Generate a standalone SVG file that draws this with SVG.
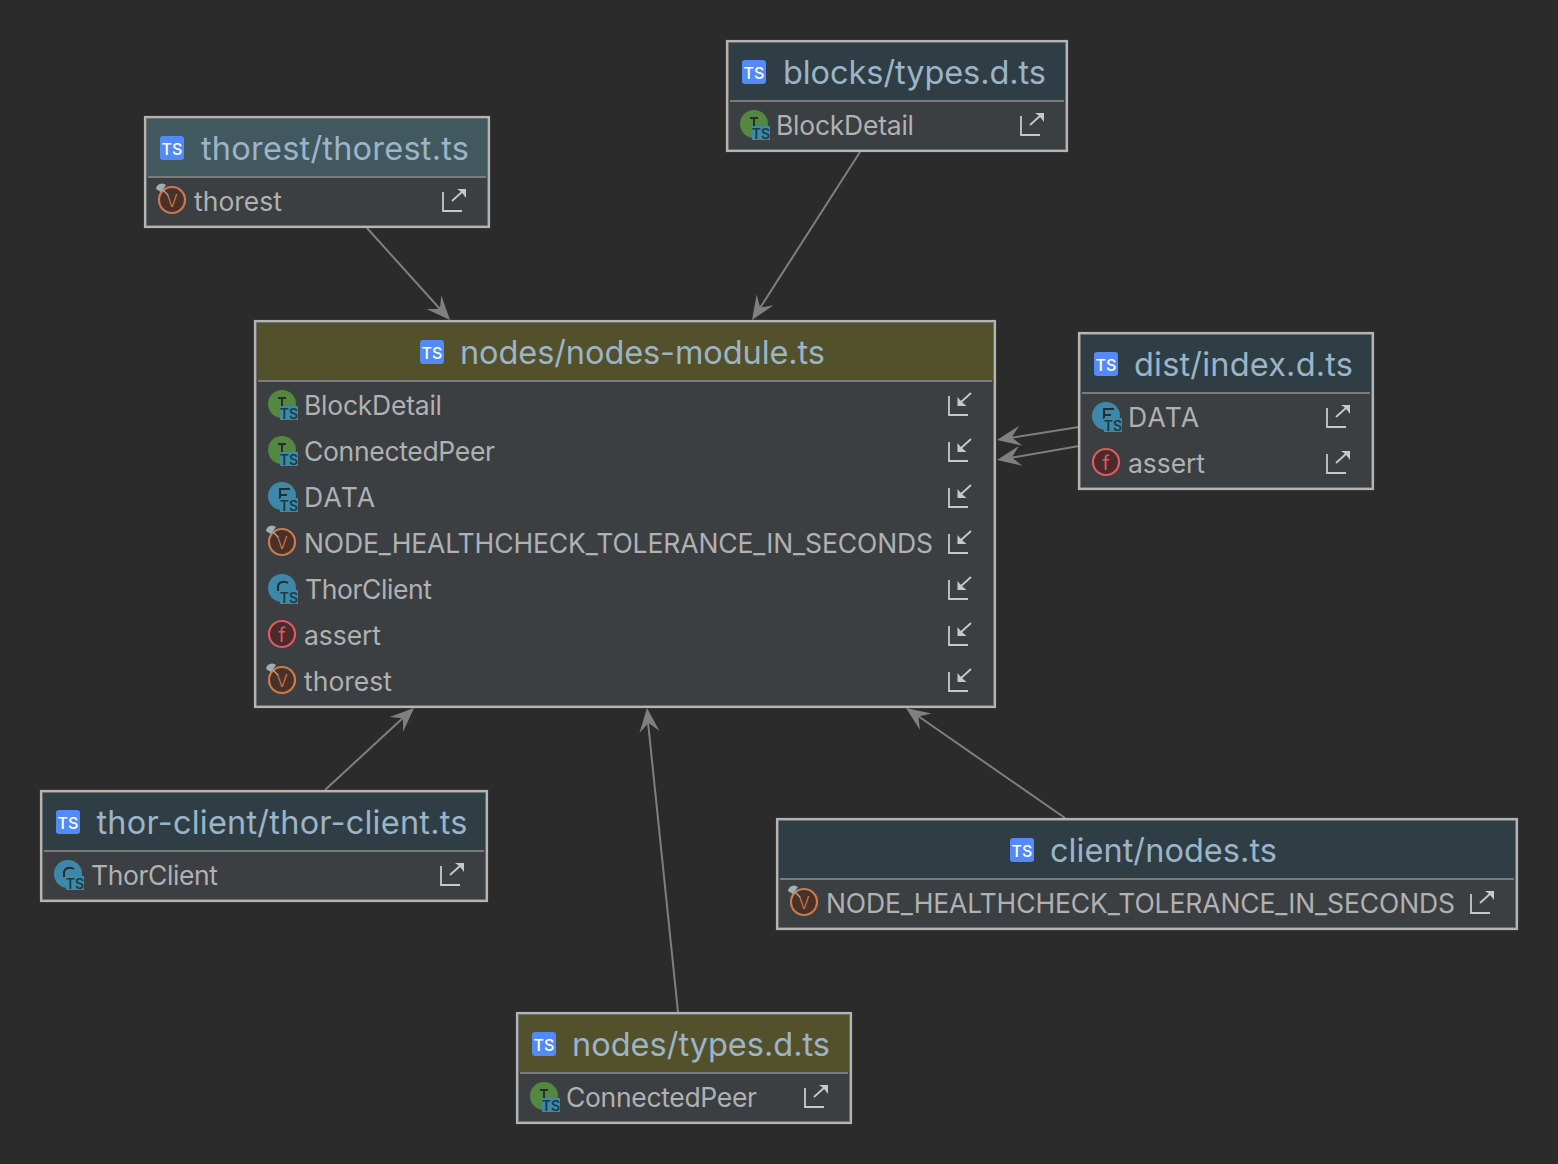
<svg xmlns="http://www.w3.org/2000/svg" xmlns:xlink="http://www.w3.org/1999/xlink" width="1558" height="1164" viewBox="0 0 1558 1164">
<style>
text{font-family:Inter,"Noto Sans","Liberation Sans",sans-serif}
.box{fill:#3c3f41;stroke:#777;stroke-width:1.500}
.frame{fill:none;stroke:#b4b4b4;stroke-width:2.200}
.sep{stroke:#7b7b7b;stroke-width:2}
.title{font-size:32.500px;fill:#9cb4c8}
.row{font-size:26.500px;fill:#afb1b3}
.blue{fill:#2f3e44}
.hteal{fill:#41585e}
.holive{fill:#53512c}
.tsbg{fill:#548af7}
.tsw{font-size:16px;font-weight:500;fill:#fff;text-anchor:middle}
.ts2{font-size:14px;font-weight:600;fill:#1f3a47;text-anchor:middle}
.ln{stroke:#c8c8c8;stroke-width:1.800;fill:none}
.hd{fill:#c8c8c8}
.ar{stroke:#7f7f7f;stroke-width:2;fill:none}
.ah{fill:#808080}
</style>
<defs>
<g id="ts"><rect width="24" height="24" rx="3" class="tsbg"/><text x="12" y="18.500" class="tsw">TS</text></g>
<g id="out"><path class="ln" d="M1 4V23H20M10 13L21 3"/><path class="hd" d="M15 1H24V10L21 6 18 3Z"/></g>
<g id="in"><path class="ln" d="M1 4V23H20M23 1L12 11"/><path class="hd" d="M9.500 5V14H18.500L15 11 12 8Z"/></g>
<g id="vv"><circle cx="1" r="13" fill="#4a3128" stroke="#c97b4f" stroke-width="2.200"/><text x="1" y="6.500" font-size="17" font-weight="300" text-anchor="middle" fill="#c97b4f">V</text><path d="M-15-11A6 6 0 0 1-5-15L-10-8Z" fill="#a0aeb5"/><path d="M-8-10L-3-5" stroke="#a0aeb5" stroke-width="1.200"/></g>
<g id="ff"><circle r="13" fill="#4a2a2c" stroke="#de5a5f" stroke-width="2.200"/><text y="7.500" font-size="20" font-weight="400" text-anchor="middle" fill="#de5a5f">f</text></g>
<g id="badge"><rect x="-2" y="2" width="18" height="14" fill="#3a8aa8"/><text x="7" y="14.500" class="ts2">TS</text></g>
<g id="ii"><circle r="14" fill="#52883f"/><path d="M-4-6H4M0-6V3" stroke="#2b2b2b" stroke-width="2"/><use xlink:href="#badge"/></g>
<g id="dd"><circle r="14" fill="#3d88a8"/><path d="M8-7H-2V3M-2-1H5" stroke="#2b2b2b" stroke-width="2" fill="none"/><use xlink:href="#badge"/></g>
<g id="cc"><circle r="14" fill="#3d88a8"/><path d="M6-5A6 5 0 0 0-4-2V3" stroke="#2b2b2b" stroke-width="2" fill="none"/><use xlink:href="#badge"/></g>
<path id="head" class="ah" d="M0 0L-24-10-15 0-24 10Z"/>
</defs>
<rect width="1558" height="1164" fill="#2b2b2b"/>

<g id="connectors">
<path class="ar" d="M367 228L440 309"/><use xlink:href="#head" transform="translate(450 320) rotate(47.800)"/>
<path class="ar" d="M860 152L760 308"/><use xlink:href="#head" transform="translate(752 320) rotate(123)"/>
<path class="ar" d="M1079 427L1010 438"/><use xlink:href="#head" transform="translate(997 440) rotate(170)"/>
<path class="ar" d="M1079 446L1010 458"/><use xlink:href="#head" transform="translate(997 460) rotate(170)"/>
<path class="ar" d="M325 790L404 717"/><use xlink:href="#head" transform="translate(414 708) rotate(-42.800)"/>
<path class="ar" d="M678 1012L648 722"/><use xlink:href="#head" transform="translate(647 708) rotate(-95.800)"/>
<path class="ar" d="M1065 818L918 716"/><use xlink:href="#head" transform="translate(906 708) rotate(-145.200)"/>
</g>

<g id="node-thorest" transform="translate(144 116)">
<rect class="box" x="2" y="2" width="342" height="108"/>
<rect class="hteal" x="3" y="3" width="340" height="58"/>
<line class="sep" x1="4" x2="342" y1="61" y2="61"/>
<rect class="frame" x="1" y="1" width="344" height="110"/>
<use xlink:href="#ts" x="16" y="20"/><text class="title" x="57" y="44" textLength="268">thorest/thorest.ts</text>
<use xlink:href="#vv" x="27" y="84"/><text class="row" x="50" y="94.500" textLength="88">thorest</text><use xlink:href="#out" x="298" y="72"/>
</g>

<g id="node-blocks" transform="translate(726 40)">
<rect class="box" x="2" y="2" width="338" height="108"/>
<rect class="blue" x="3" y="3" width="336" height="58"/>
<line class="sep" x1="4" x2="338" y1="61" y2="61"/>
<rect class="frame" x="1" y="1" width="340" height="110"/>
<use xlink:href="#ts" x="16" y="20"/><text class="title" x="57" y="44" textLength="263">blocks/types.d.ts</text>
<use xlink:href="#ii" x="28" y="84"/><text class="row" x="50" y="94.500" textLength="138">BlockDetail</text><use xlink:href="#out" x="294" y="72"/>
</g>

<g id="node-main" transform="translate(254 320)">
<rect class="box" x="2" y="2" width="738" height="384"/>
<rect class="holive" x="3" y="3" width="736" height="58"/>
<line class="sep" x1="4" x2="738" y1="61" y2="61"/>
<rect class="frame" x="1" y="1" width="740" height="386"/>
<use xlink:href="#ts" x="166" y="20"/><text class="title" x="206" y="44" textLength="365">nodes/nodes-module.ts</text>
<use xlink:href="#ii" x="28" y="84"/><text class="row" x="50" y="94.500" textLength="138">BlockDetail</text><use xlink:href="#in" x="694" y="72"/>
<use xlink:href="#ii" x="28" y="130"/><text class="row" x="50" y="140.500" textLength="191">ConnectedPeer</text><use xlink:href="#in" x="694" y="118"/>
<use xlink:href="#dd" x="28" y="176"/><text class="row" x="50" y="186.500" textLength="71">DATA</text><use xlink:href="#in" x="694" y="164"/>
<use xlink:href="#vv" x="27" y="222"/><text class="row" x="50" y="232.500" textLength="629">NODE_HEALTHCHECK_TOLERANCE_IN_SECONDS</text><use xlink:href="#in" x="694" y="210"/>
<use xlink:href="#cc" x="28" y="268"/><text class="row" x="51" y="278.500" textLength="127">ThorClient</text><use xlink:href="#in" x="694" y="256"/>
<use xlink:href="#ff" x="28" y="314"/><text class="row" x="50" y="324.500" textLength="77">assert</text><use xlink:href="#in" x="694" y="302"/>
<use xlink:href="#vv" x="27" y="360"/><text class="row" x="50" y="370.500" textLength="88">thorest</text><use xlink:href="#in" x="694" y="348"/>
</g>

<g id="node-dist" transform="translate(1078 332)">
<rect class="box" x="2" y="2" width="292" height="154"/>
<rect class="blue" x="3" y="3" width="290" height="58"/>
<line class="sep" x1="4" x2="292" y1="61" y2="61"/>
<rect class="frame" x="1" y="1" width="294" height="156"/>
<use xlink:href="#ts" x="16" y="20"/><text class="title" x="56" y="44" textLength="219">dist/index.d.ts</text>
<use xlink:href="#dd" x="28" y="84"/><text class="row" x="50" y="94.500" textLength="71">DATA</text><use xlink:href="#out" x="248" y="72"/>
<use xlink:href="#ff" x="28" y="130"/><text class="row" x="50" y="140.500" textLength="77">assert</text><use xlink:href="#out" x="248" y="118"/>
</g>

<g id="node-thor-client" transform="translate(40 790)">
<rect class="box" x="2" y="2" width="444" height="108"/>
<rect class="blue" x="3" y="3" width="442" height="58"/>
<line class="sep" x1="4" x2="444" y1="61" y2="61"/>
<rect class="frame" x="1" y="1" width="446" height="110"/>
<use xlink:href="#ts" x="16" y="20"/><text class="title" x="56.500" y="44" textLength="371">thor-client/thor-client.ts</text>
<use xlink:href="#cc" x="28" y="84"/><text class="row" x="51" y="94.500" textLength="127">ThorClient</text><use xlink:href="#out" x="400" y="72"/>
</g>

<g id="node-client" transform="translate(776 818)">
<rect class="box" x="2" y="2" width="738" height="108"/>
<rect class="blue" x="3" y="3" width="736" height="58"/>
<line class="sep" x1="4" x2="738" y1="61" y2="61"/>
<rect class="frame" x="1" y="1" width="740" height="110"/>
<use xlink:href="#ts" x="234" y="20"/><text class="title" x="274" y="44" textLength="227">client/nodes.ts</text>
<use xlink:href="#vv" x="27" y="84"/><text class="row" x="50" y="94.500" textLength="629">NODE_HEALTHCHECK_TOLERANCE_IN_SECONDS</text><use xlink:href="#out" x="694" y="72"/>
</g>

<g id="node-types" transform="translate(516 1012)">
<rect class="box" x="2" y="2" width="332" height="108"/>
<rect class="holive" x="3" y="3" width="330" height="58"/>
<line class="sep" x1="4" x2="332" y1="61" y2="61"/>
<rect class="frame" x="1" y="1" width="334" height="110"/>
<use xlink:href="#ts" x="16" y="20"/><text class="title" x="56" y="44" textLength="258">nodes/types.d.ts</text>
<use xlink:href="#ii" x="28" y="84"/><text class="row" x="50" y="94.500" textLength="191">ConnectedPeer</text><use xlink:href="#out" x="288" y="72"/>
</g>
</svg>
